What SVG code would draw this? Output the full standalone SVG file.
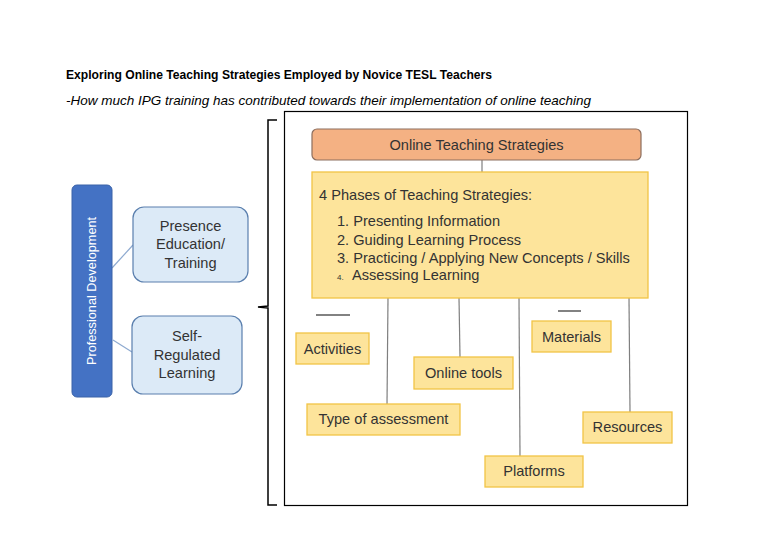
<svg xmlns="http://www.w3.org/2000/svg" width="768" height="543" viewBox="0 0 768 543">
<style>
text{font-family:"Liberation Sans",Arial,sans-serif;fill:#333}
.t{font-size:14.6px}
.c{text-anchor:middle}
.y{fill:#fde49b;stroke:#f2c445;stroke-width:1.3}
.ln{stroke:#7f7f7f;stroke-width:1.2;fill:none}
.lb{stroke:#8eaad0;stroke-width:1.2;fill:none}
.bl{fill:#dceaf7;stroke:#5a7fae;stroke-width:1.2}
</style>
<rect width="768" height="543" fill="#fff"/>
<text x="66" y="79" font-size="12.5" font-weight="bold" textLength="426" lengthAdjust="spacingAndGlyphs" style="fill:#000">Exploring Online Teaching Strategies Employed by Novice TESL Teachers</text>
<text x="66" y="105" font-size="13" font-style="italic" textLength="525" lengthAdjust="spacingAndGlyphs" style="fill:#000">-How much IPG training has contributed towards their implementation of online teaching</text>

<g id="brace"><path d="M277,120 L268,120 L268,306 L258,307 L268,308 L268,505 L277,505" fill="none" stroke="#000" stroke-width="1.5"/></g>
<g id="frame"><rect x="284.5" y="111.5" width="403" height="394" fill="none" stroke="#000" stroke-width="1.2"/></g>

<g id="connectors">
<line class="lb" x1="112" y1="268" x2="133" y2="245"/>
<line class="lb" x1="113" y1="340" x2="132" y2="352"/>
<line class="ln" x1="482" y1="160" x2="482" y2="172"/>
<line class="ln" x1="388" y1="298" x2="387" y2="404"/>
<line class="ln" x1="459" y1="298" x2="460" y2="357"/>
<line class="ln" x1="519" y1="298" x2="520" y2="456"/>
<line class="ln" x1="629" y1="298" x2="630" y2="412"/>
<line x1="316" y1="315" x2="350" y2="315" stroke="#595959" stroke-width="1.5"/>
<line x1="558" y1="311" x2="581" y2="311" stroke="#595959" stroke-width="1.5"/>
</g>

<g id="prof-dev">
<rect x="72" y="185" width="40" height="212" rx="5" fill="#4472c4" stroke="#3a62a8"/>
<text transform="translate(96,291) rotate(-90)" class="c" font-size="12.7" style="fill:#fff">Professional Development</text>
</g>
<g id="presence">
<rect class="bl" x="133" y="207" width="115" height="75" rx="11"/>
<text class="t c" x="190.5" y="231">Presence</text>
<text class="t c" x="190.5" y="249">Education/</text>
<text class="t c" x="190.5" y="268">Training</text>
</g>
<g id="self-regulated">
<rect class="bl" x="132" y="316" width="110" height="78" rx="11"/>
<text class="t c" x="187" y="341">Self-</text>
<text class="t c" x="187" y="360">Regulated</text>
<text class="t c" x="187" y="378">Learning</text>
</g>

<g id="ots">
<rect x="312" y="129" width="329" height="31" rx="5" fill="#f4b183" stroke="#8c6e5e" stroke-width="1.2"/>
<text class="t c" x="476.5" y="150">Online Teaching Strategies</text>
</g>
<g id="phases">
<rect class="y" x="312" y="172" width="336" height="126"/>
<text class="t" x="319" y="200">4 Phases of Teaching Strategies:</text>
<text class="t" x="337" y="226">1. Presenting Information</text>
<text class="t" x="337" y="245">2. Guiding Learning Process</text>
<text class="t" x="337" y="263">3. Practicing / Applying New Concepts / Skills</text>
<text x="337" y="280" font-size="8">4.</text>
<text class="t" x="352" y="280">Assessing Learning</text>
</g>
<g id="activities"><rect class="y" x="296" y="333" width="73" height="31"/><text class="t c" x="332.5" y="354">Activities</text></g>
<g id="online-tools"><rect class="y" x="414" y="357" width="99" height="32"/><text class="t c" x="463.5" y="378">Online tools</text></g>
<g id="type-assessment"><rect class="y" x="307" y="404" width="153" height="31"/><text class="t c" x="383.5" y="424">Type of assessment</text></g>
<g id="materials"><rect class="y" x="532" y="321" width="79" height="31"/><text class="t c" x="571.5" y="342">Materials</text></g>
<g id="resources"><rect class="y" x="583" y="412" width="89" height="31"/><text class="t c" x="627.5" y="432">Resources</text></g>
<g id="platforms"><rect class="y" x="485" y="456" width="98" height="31"/><text class="t c" x="534" y="476">Platforms</text></g>
</svg>
